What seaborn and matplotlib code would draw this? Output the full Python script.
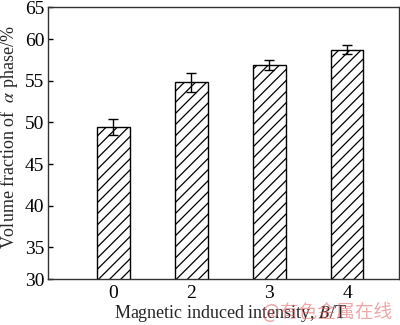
import matplotlib
matplotlib.use("Agg")
import matplotlib.pyplot as plt
import seaborn as sns
import pandas as pd

categories = ["0", "2", "3", "4"]
values = [49.5, 54.85, 56.9, 58.75]
errors = [0.95, 1.15, 0.55, 0.55]
ytick_values = [35, 40, 45, 50, 55, 60]
ytick_labels = ["35", "40", "45", "50", "55", "60"]

sns.set_style("ticks")
plt.rcParams["font.family"] = ["Liberation Serif", "DejaVu Serif"]
plt.rcParams["hatch.linewidth"] = 0.9
plt.rcParams["mathtext.fontset"] = "stix"

df = pd.DataFrame({"B": categories, "frac": values})

fig = plt.figure(figsize=(4.0, 3.25), dpi=100)
ax = fig.add_axes([48.3 / 400, 45.7 / 325, 350.7 / 400, 272.0 / 325])

sns.barplot(data=df, x="B", y="frac", ax=ax, color="white", edgecolor="black",
            linewidth=1.0, width=0.42, hatch="///", errorbar=None)
for p in ax.patches:
    p.set_facecolor("white")
    p.set_edgecolor("black")
    p.set_hatch("///")

ax.errorbar(range(len(categories)), values, yerr=errors, fmt="none",
            ecolor="black", elinewidth=1.0, capsize=3.5, capthick=1.0)

ax.set_xlim(-0.836, 3.667)
ax.set_ylim(31.16, 63.84)
ax.set_yticks([31.16] + ytick_values + [63.84])
ax.set_yticklabels(["30"] + ytick_labels + ["65"])
ax.tick_params(axis="y", direction="in", length=3.5, width=1.0, labelsize=14, pad=3, colors="black")
ax.tick_params(axis="x", length=0, labelsize=14, pad=4, colors="black")

for s in ax.spines.values():
    s.set_visible(True)
    s.set_color("#333333")
    s.set_linewidth(1.0)

ax.set_xlabel(r"Magnetic induced intensity, $\mathit{B}$/T", fontsize=13, labelpad=1)
ax.set_ylabel(r"Volume fraction of  $\mathit{\alpha}$ phase/%", fontsize=13, labelpad=3)
ax.xaxis.label.set_x(0.521)
ax.yaxis.label.set_y(0.523)

fig.text(327 / 400, 1 - 313 / 325, "@有色金属在线", color="#e06060", alpha=0.55,
         fontsize=13.5, family=["Noto Sans CJK SC", "DejaVu Sans"], ha="center", va="center")

fig.savefig("out.png", dpi=100)
